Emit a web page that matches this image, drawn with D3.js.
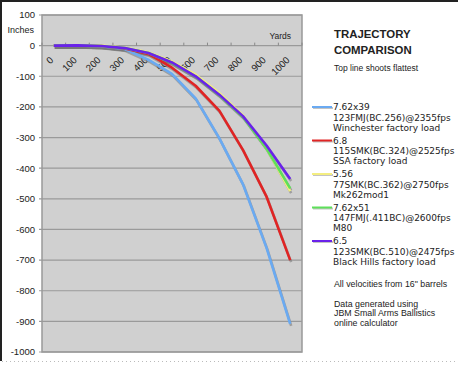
<!DOCTYPE html>
<html><head><meta charset="utf-8">
<script src="https://cdn.jsdelivr.net/npm/d3@7/dist/d3.min.js"></script>
<style>body{margin:0;background:#fff}svg{display:block}</style>
</head><body>
<script>
const yards = ["0","100","200","300","400","500","600","700","800","900","1000"];
const yTicks = [100,0,-100,-200,-300,-400,-500,-600,-700,-800,-900,-1000];
const names = ["7.62x39","6.8","5.56","7.62x51","6.5"];
const loadLines = [
  ["123FMJ(BC.256)@2355fps","Winchester factory load"],
  ["115SMK(BC.324)@2525fps","SSA factory load"],
  ["77SMK(BC.362)@2750fps","Mk262mod1"],
  ["147FMJ(.411BC)@2600fps","M80"],
  ["123SMK(BC.510)@2475fps","Black Hills factory load"]
];
const colors = ["#6aaaf2","#e02424","#f4ee80","#5ee05a","#6a22ea"];
const s76239 = [0,1,-2,-11,-46,-92,-172,-302,-452,-660,-908];
const s68     = [0,1,-1,-9,-27,-72,-131,-212,-340,-493,-700];
const s556    = [0,1,0,-7,-22,-52,-95,-155,-228,-335,-475];
const s76251  = [0,1,-1,-8,-24,-56,-100,-161,-232,-336,-466];
const s65     = [0,1,-1,-8,-24,-55,-100,-160,-230,-326,-435];
const series = [s76239,s68,s556,s76251,s65];
const notes = ["All velocities from 16\" barrels","","Data generated using","JBM Small Arms Ballistics","online calculator"];

const W=458,H=366;
const svg=d3.select("body").append("svg").attr("width",W).attr("height",H);
// outer frame
svg.append("line").attr("x1",1).attr("x2",1).attr("y1",0).attr("y2",361).attr("stroke","#222").attr("stroke-width",2);
svg.append("line").attr("x1",0).attr("x2",W).attr("y1",1).attr("y2",1).attr("stroke","#222").attr("stroke-width",2);
svg.append("line").attr("x1",2).attr("x2",W).attr("y1",361.5).attr("y2",361.5).attr("stroke","#bbb").attr("stroke-dasharray","1,3");

const L=42,R=302,T=15,B=352;
const x=d3.scaleBand().domain(yards).range([L,R]).padding(0);
const y=d3.scaleLinear().domain([-1000,100]).range([B,T]);
const g=svg.append("g");
g.append("rect").attr("x",L).attr("y",T).attr("width",R-L).attr("height",B-T).attr("fill","#d0d0d0");
// gridlines + y ticks
g.selectAll("line.grid").data(yTicks).join("line").attr("class","grid")
  .attr("x1",L-3).attr("x2",R).attr("y1",d=>y(d)).attr("y2",d=>y(d))
  .attr("stroke","#9a9a9a").attr("stroke-width",1.2);
g.append("rect").attr("x",L).attr("y",T).attr("width",R-L).attr("height",B-T).attr("fill","none").attr("stroke","#999").attr("stroke-width",1.5);
g.selectAll("text.yl").data(yTicks).join("text").attr("class","yl")
  .attr("x",35).attr("y",d=>y(d)).attr("dy","0.35em").attr("text-anchor","end")
  .attr("font-family","Liberation Sans, Arial, sans-serif").attr("font-size",9.5).attr("fill","#222").text(d=>d);
svg.append("text").attr("x",34).attr("y",33).attr("text-anchor","end")
  .attr("font-family","Liberation Sans, Arial, sans-serif").attr("font-size",9).attr("fill","#222").text("Inches");
// x axis at 0
const y0=y(0);
g.selectAll("line.xt").data(yards.concat(["end"])).join("line").attr("class","xt")
  .attr("x1",(d,i)=>L+i*x.bandwidth()).attr("x2",(d,i)=>L+i*x.bandwidth())
  .attr("y1",y0).attr("y2",y0-3).attr("stroke","#888");
g.selectAll("text.xl").data(yards).join("text").attr("class","xl")
  .attr("transform",d=>`translate(${x(d)+x.bandwidth()/2-5},${y0+10}) rotate(-45)`)
  .attr("text-anchor","end").attr("dy","0.75em")
  .attr("font-family","Liberation Sans, Arial, sans-serif").attr("font-size",9.6).attr("fill","#222").text(d=>d);
svg.append("text").attr("x",291).attr("y",39).attr("text-anchor","end")
  .attr("font-family","Liberation Sans, Arial, sans-serif").attr("font-size",8.5).attr("fill","#222").text("Yards");
// lines
const line=d3.line().x((d,i)=>x(yards[i])+x.bandwidth()/2).y(d=>y(d));
series.forEach((s,k)=>{
  g.append("path").attr("d",line(s)).attr("fill","none").attr("stroke","#777").attr("stroke-opacity",0.55)
   .attr("stroke-width",2.6).attr("transform","translate(1,2)");
});
series.forEach((s,k)=>{
  g.append("path").attr("d",line(s)).attr("fill","none").attr("stroke",colors[k]).attr("stroke-width",2.6).attr("stroke-linejoin","round");
});
// title
const tf="Liberation Sans, Arial, sans-serif";
svg.append("text").attr("x",334).attr("y",38).attr("font-family",tf).attr("font-weight","bold").attr("font-size",11.4).attr("fill","#222").text("TRAJECTORY");
svg.append("text").attr("x",334).attr("y",54).attr("font-family",tf).attr("font-weight","bold").attr("font-size",11.4).attr("fill","#222").text("COMPARISON");
svg.append("text").attr("x",334).attr("y",71).attr("font-family",tf).attr("font-size",8.5).attr("fill","#222").text("Top line shoots flattest");
// legend
const lf="DejaVu Sans, Verdana, sans-serif";
names.forEach((n,k)=>{
  const ly=107+k*33.5;
  svg.append("line").attr("x1",313).attr("x2",333).attr("y1",ly+1).attr("y2",ly+1).attr("stroke","#888").attr("stroke-opacity",0.5).attr("stroke-width",2);
  svg.append("line").attr("x1",312).attr("x2",332).attr("y1",ly).attr("y2",ly).attr("stroke",colors[k]).attr("stroke-width",2);
  const t=svg.append("text").attr("font-family",lf).attr("font-size",9).attr("fill","#222");
  [n].concat(loadLines[k]).forEach((ln,j)=>{
    t.append("tspan").attr("x",333).attr("y",ly+3.3+j*10.2).text(ln);
  });
});
notes.forEach((n,i)=>{
  const ny=[287,0,306.5,316,325.5][i];
  if(n) svg.append("text").attr("x",334).attr("y",ny).attr("font-family",tf).attr("font-size",8.8).attr("fill","#222").text(n);
});
</script>
</body></html>
